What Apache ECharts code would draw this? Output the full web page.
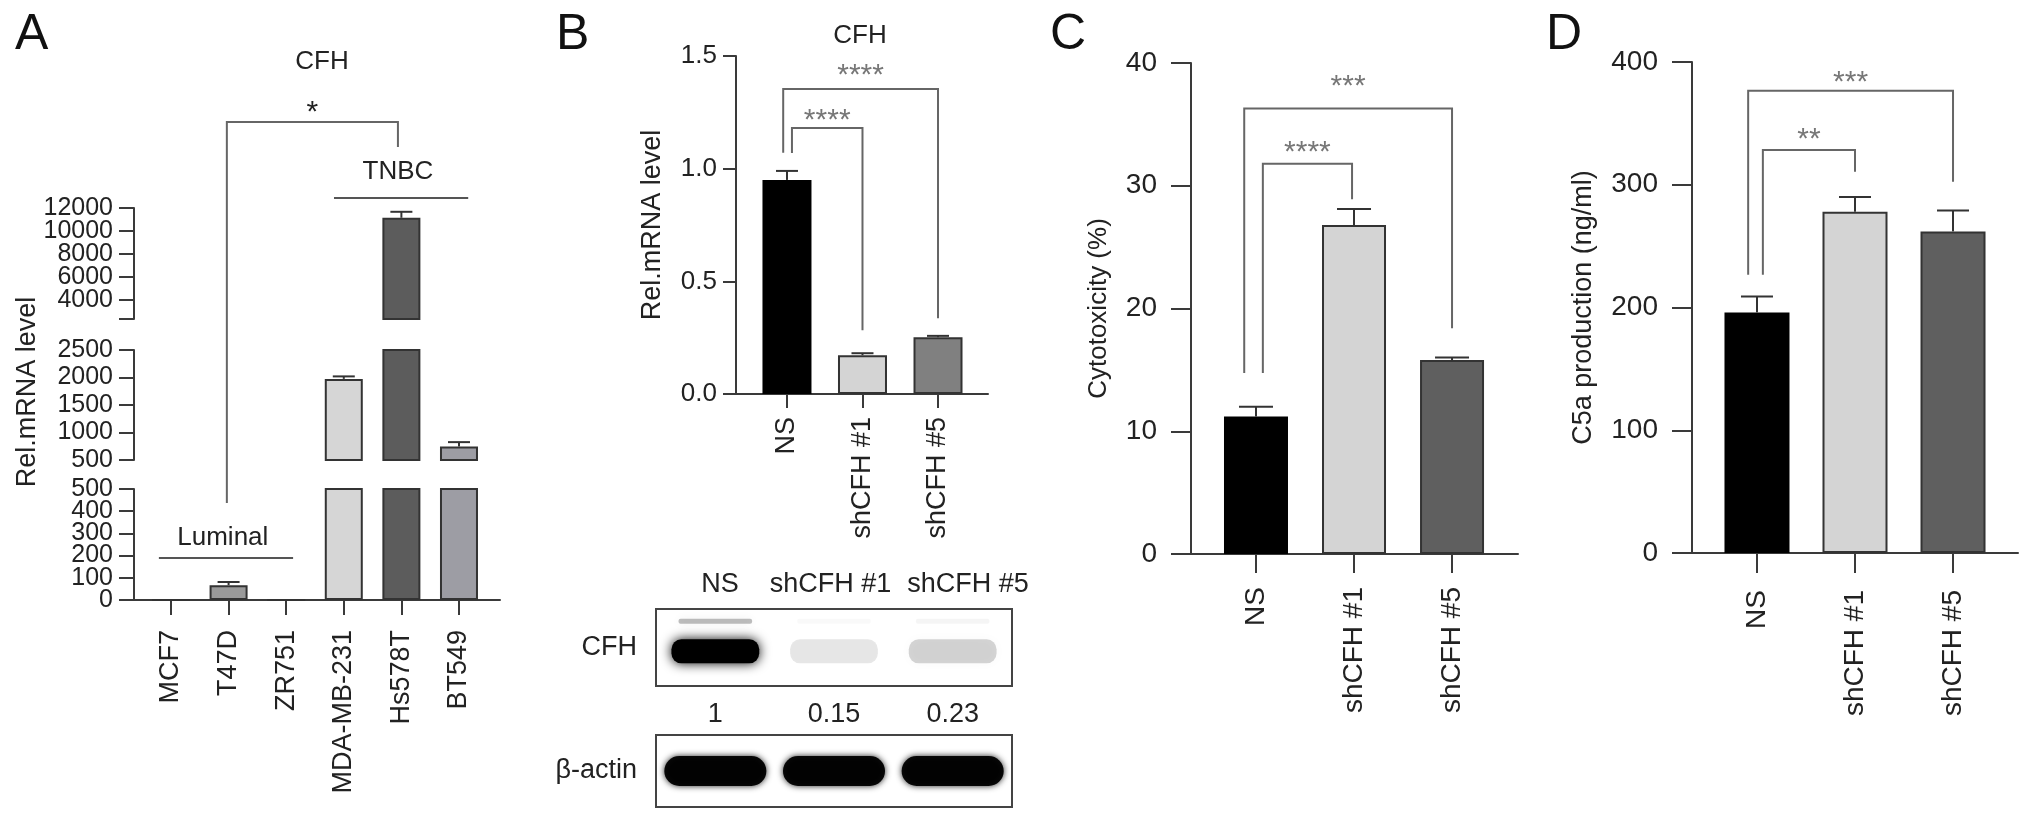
<!DOCTYPE html>
<html><head><meta charset="utf-8">
<script src="https://cdn.jsdelivr.net/npm/echarts@6/dist/echarts.min.js"></script>
<style>html,body{margin:0;padding:0;background:#fff}#c{width:2032px;height:822px}</style>
</head><body><div id="c"></div>
<script>
// ---------- Panel A data ----------
const catsA = ['MCF7', 'T47D', 'ZR751', 'MDA-MB-231', 'Hs578T', 'BT549'];
const meanA = [1, 67, 1, 1975, 11150, 745];
const errA = [0, 14, 0, 45, 520, 80];
const ticksAUpper = [4000, 6000, 8000, 10000, 12000];
const ticksAMid = [500, 1000, 1500, 2000, 2500];
const ticksALow = [0, 100, 200, 300, 400, 500];
const groupNames = ['Luminal', 'TNBC'];
// ---------- Panel B data ----------
const catsB = ['NS', 'shCFH #1', 'shCFH #5'];
const meanB = [0.95, 0.172, 0.252];
const errB = [0.04, 0.009, 0.006];
const blotLanes = ['NS', 'shCFH #1', 'shCFH #5'];
const blotRows = ['CFH', 'β-actin'];
const cfhQuant = [1, 0.15, 0.23];
const actinQuant = [1, 1, 1];
// ---------- Panel C data ----------
const catsC = ['NS', 'shCFH #1', 'shCFH #5'];
const meanC = [11.2, 26.8, 15.8];
const errC = [0.8, 1.3, 0.2];
// ---------- Panel D data ----------
const catsD = ['NS', 'shCFH #1', 'shCFH #5'];
const meanD = [196, 278, 262];
const errD = [13, 12, 17];
// significance brackets: [xLeft, xRight, yTop, yLeftEnd, yRightEnd, yStars, mark]
const bracketsB = [[0.066, 1, 1.18, 1.07, 0.283, 1.243, '****'], [-0.05, 2, 1.354, 1.071, 0.336, 1.442, '****']];
const bracketsC = [[0.07, 0.98, 31.8, 14.75, 28.9, 33.2, '****'], [-0.12, 2, 36.3, 14.75, 18.4, 38.6, '***']];
const bracketsD = [[0.06, 1, 328.4, 226.6, 310.5, 342, '**'], [-0.09, 2, 376.5, 226.6, 302.4, 388.7, '***']];

// ---------- styling / layout ----------
const FONT = '"Liberation Sans", Arial, Helvetica, sans-serif';
const AX = '#3a3a3a';
const TXT = '#222';
const colorsA = ['#9a9a9a', '#9a9a9a', '#9a9a9a', '#d6d6d6', '#5c5c5c', '#9d9da4'];
const colorsB = ['#000000', '#d4d4d4', '#808080'];
const colorsCD = ['#000000', '#d4d4d4', '#5f5f5f'];
const blotLabelPos = [0.54, 1.47, 2.63];   // lane-name label positions (lane units)

const A_X = { min: -0.642, max: 5.712 };
// annotation layer for panel A (layout units, 0 = x axis)
const annA_bracket = [[0.97, 3.94, 478, 97, 453, 494, '*']];
const annA_x1 = [-0.21, 2.83], annA_x2 = [2.12, 5.16], annA_y = [42, 402], annA_ty = [62, 428], annA_tx = [0.9, 3.94];

const evenOf = arr => arr.filter((v, i) => i % 2 === 0);
const oddOf = arr => arr.filter((v, i) => i % 2 === 1);

function barSeries(xi, yi, means, colors, width) {
  return {
    type: 'bar', xAxisIndex: xi, yAxisIndex: yi, barWidth: width, clip: true, z: 2,
    itemStyle: { borderColor: '#333', borderWidth: 2 },
    data: means.map((m, i) => ({ value: [i, m], itemStyle: { color: colors[i], borderColor: colors[i] === '#000000' ? '#000' : '#333' } }))
  };
}
function errSeries(xi, yi, means, errs, lo, hi, half) {
  const data = means.map((m, i) => [i, m, errs[i]]).filter(d => d[2] > 0 && d[1] >= lo && d[1] <= hi);
  return {
    type: 'custom', xAxisIndex: xi, yAxisIndex: yi, z: 4, data: data,
    renderItem: function (params, api) {
      const x = api.value(0), m = api.value(1), e = api.value(2);
      const p0 = api.coord([x, m]), p1 = api.coord([x, m + e]);
      const st = { stroke: '#333', lineWidth: 2 };
      return { type: 'group', children: [
        { type: 'line', shape: { x1: p0[0], y1: p0[1], x2: p1[0], y2: p1[1] }, style: st },
        { type: 'line', shape: { x1: p1[0] - half, y1: p1[1], x2: p1[0] + half, y2: p1[1] }, style: st }
      ] };
    }
  };
}
function bracketSeries(xi, yi, list, starSize, starColor) {
  return {
    type: 'custom', xAxisIndex: xi, yAxisIndex: yi, z: 5, clip: false, data: list.map((b, i) => [i]),
    renderItem: function (params, api) {
      const b = list[params.dataIndex];
      const pL = api.coord([b[0], b[3]]), pTL = api.coord([b[0], b[2]]), pTR = api.coord([b[1], b[2]]), pR = api.coord([b[1], b[4]]);
      const ps = api.coord([(b[0] + b[1]) / 2, b[5]]);
      return { type: 'group', children: [
        { type: 'polyline', shape: { points: [pL, pTL, pTR, pR] }, style: { stroke: '#666', lineWidth: 2, fill: null } },
        { type: 'text', x: ps[0], y: ps[1] + starSize * 0.22, style: { text: b[6], fill: starColor, font: starSize + 'px ' + FONT, align: 'center', verticalAlign: 'middle' } }
      ] };
    }
  };
}
function bandSeries(xi, yi, quant, kind) {
  return {
    type: 'custom', xAxisIndex: xi, yAxisIndex: yi, z: 3, clip: false,
    data: quant.map((q, i) => [i + 0.5, q]),
    renderItem: function (params, api) {
      const lane = api.value(0), q = api.value(1);
      const cs = params.coordSys;
      const cx = api.coord([lane, 0])[0];
      const lw = api.coord([lane + 0.5, 0])[0] - api.coord([lane - 0.5, 0])[0];
      const kids = [];
      if (kind === 'cfh') {
        const a = Math.pow(q, 1.25);
        const w = lw * 0.74, h = 24, cy = cs.y + cs.height * 0.55;
        kids.push({ type: 'rect', shape: { x: cx - w / 2, y: cy - h / 2, width: w, height: h, r: 10 },
          style: { fill: 'rgba(0,0,0,' + a + ')', shadowBlur: 12, shadowColor: 'rgba(0,0,0,' + a + ')' } });
        const w2 = lw * 0.62, h2 = 5, cy2 = cs.y + cs.height * 0.16;
        kids.push({ type: 'rect', shape: { x: cx - w2 / 2, y: cy2 - h2 / 2, width: w2, height: h2, r: 2 },
          style: { fill: 'rgba(0,0,0,' + (0.25 * a) + ')', shadowBlur: 8, shadowColor: 'rgba(0,0,0,' + (0.25 * a) + ')' } });
        // lane name above the blot
        const lx = api.coord([blotLabelPos[params.dataIndex], 0])[0];
        kids.push({ type: 'text', x: lx, y: cs.y - 24, style: { text: blotLanes[params.dataIndex], fill: TXT, font: '27px ' + FONT, align: 'center', verticalAlign: 'middle' } });
      } else {
        const w = lw * 0.86, h = 30, cy = cs.y + cs.height * 0.5;
        kids.push({ type: 'rect', shape: { x: cx - w / 2, y: cy - h / 2, width: w, height: h, r: 15 },
          style: { fill: 'rgba(0,0,0,' + (0.95 * q) + ')', shadowBlur: 6, shadowColor: 'rgba(0,0,0,0.9)' } });
      }
      return { type: 'group', children: kids };
    }
  };
}
function catX(gi, range, cats, opt) {
  const ticks = cats.map((c, i) => i);
  return {
    type: 'value', gridIndex: gi, min: range.min, max: range.max, splitLine: { show: false },
    axisLine: { show: true, onZero: false, lineStyle: { color: AX, width: 2 } },
    axisTick: { show: true, length: opt.tick, customValues: ticks, lineStyle: { color: AX, width: 2 } },
    axisLabel: { show: true, customValues: ticks, rotate: 90, margin: opt.margin, fontSize: opt.fs, color: TXT, fontFamily: FONT,
      showMinLabel: true, showMaxLabel: true, hideOverlap: false, formatter: v => cats[Math.round(v)] }
  };
}
function hiddenX(gi, range) {
  return { type: 'value', gridIndex: gi, min: range.min, max: range.max, show: false, splitLine: { show: false }, axisLine: { onZero: false } };
}
function valY(gi, o) {
  const y = {
    type: 'value', gridIndex: gi, position: 'left', offset: 0, min: o.min, max: o.max, splitLine: { show: false },
    axisLine: { show: o.line !== false, onZero: false, lineStyle: { color: AX, width: 2 } },
    axisTick: { show: o.line !== false, length: o.tick, lineStyle: { color: AX, width: 2 } },
    axisLabel: { margin: o.margin, fontSize: o.fs, color: TXT, fontFamily: FONT, showMinLabel: true, showMaxLabel: true,
      hideOverlap: false, formatter: o.fmt || (v => String(v)) }
  };
  if (o.interval) y.interval = o.interval;
  if (o.tickValues) y.axisTick.customValues = o.tickValues;
  if (o.labelValues) y.axisLabel.customValues = o.labelValues;
  if (o.name) {
    y.name = o.name; y.nameLocation = 'middle'; y.nameGap = o.nameGap;
    y.nameTextStyle = { fontSize: o.nameFs, color: TXT, fontFamily: FONT, padding: o.namePad || 0 };
  }
  return y;
}
const rngB = { min: -0.675, max: 2.662 }, rngC = { min: -0.663, max: 2.673 }, rngD = { min: -0.663, max: 2.663 };

const option = {
  animation: false,
  backgroundColor: '#fff',
  textStyle: { fontFamily: FONT },
  title: [
    { text: 'A', left: 10, top: 5, textStyle: { fontSize: 50, fontWeight: 'normal', color: '#111', fontFamily: FONT } },
    { text: 'B', left: 551, top: 5, textStyle: { fontSize: 50, fontWeight: 'normal', color: '#111', fontFamily: FONT } },
    { text: 'C', left: 1045, top: 5, textStyle: { fontSize: 50, fontWeight: 'normal', color: '#111', fontFamily: FONT } },
    { text: 'D', left: 1541, top: 5, textStyle: { fontSize: 50, fontWeight: 'normal', color: '#111', fontFamily: FONT } },
    { text: 'CFH', left: 317, top: 44, textAlign: 'center', textStyle: { fontSize: 26, fontWeight: 'normal', color: TXT, fontFamily: FONT } },
    { text: 'CFH', left: 855, top: 18, textAlign: 'center', textStyle: { fontSize: 26, fontWeight: 'normal', color: TXT, fontFamily: FONT } }
  ],
  grid: [
    { left: 134, top: 208, width: 366, height: 111 },   // 0 A upper
    { left: 134, top: 350, width: 366, height: 110 },   // 1 A middle
    { left: 134, top: 489, width: 366, height: 111 },   // 2 A lower
    { left: 134, top: 0, width: 366, height: 600 },     // 3 A annotations
    { left: 736, top: 56, width: 252, height: 338 },    // 4 B
    { left: 1191, top: 63, width: 327, height: 491 },   // 5 C
    { left: 1692, top: 62, width: 326, height: 491 },   // 6 D
    { left: 656, top: 609, width: 356, height: 77, show: true, borderColor: '#444', borderWidth: 2 }, // 7 blot CFH
    { left: 656, top: 735, width: 356, height: 72, show: true, borderColor: '#444', borderWidth: 2 }  // 8 blot actin
  ],
  xAxis: [
    hiddenX(0, A_X),
    hiddenX(1, A_X),
    catX(2, A_X, catsA, { tick: 15, margin: 30, fs: 27 }),
    hiddenX(3, A_X),
    catX(4, rngB, catsB, { tick: 14, margin: 23, fs: 27 }),
    catX(5, rngC, catsC, { tick: 19, margin: 33, fs: 28 }),
    catX(6, rngD, catsD, { tick: 20, margin: 37, fs: 28 }),
    { type: 'value', gridIndex: 7, position: 'bottom', min: 0, max: 3, splitLine: { show: false }, axisLine: { show: false, onZero: false }, axisTick: { show: false },
      axisLabel: { customValues: [0.5, 1.5, 2.5], margin: 15, fontSize: 27, color: TXT, fontFamily: FONT, showMinLabel: true, showMaxLabel: true, hideOverlap: false,
        formatter: v => String(cfhQuant[Math.floor(v)]) } },
    { type: 'value', gridIndex: 8, min: 0, max: 3, show: false, splitLine: { show: false }, axisLine: { onZero: false } }
  ],
  yAxis: [
    valY(0, { min: 2350, max: 12000, tick: 15, margin: 21, fs: 25, tickValues: [2350].concat(ticksAUpper), labelValues: evenOf(ticksAUpper) }),
    valY(1, { min: 500, max: 2500, tick: 15, margin: 21, fs: 25, tickValues: ticksAMid, labelValues: ticksAMid,
      name: 'Rel.mRNA level', nameGap: 93, nameFs: 27, namePad: [0, 0, 0, 26] }),
    valY(2, { min: 0, max: 500, tick: 15, margin: 21, fs: 25, tickValues: ticksALow, labelValues: evenOf(ticksALow) }),
    { type: 'value', gridIndex: 3, min: 0, max: 600, show: false, splitLine: { show: false }, axisLine: { onZero: false } },
    valY(4, { min: 0, max: 1.5, interval: 0.5, tick: 13, margin: 19, fs: 26, fmt: v => v.toFixed(1),
      name: 'Rel.mRNA level', nameGap: 70, nameFs: 27 }),
    valY(5, { min: 0, max: 40, interval: 10, tick: 20, margin: 34, fs: 28, name: 'Cytotoxicity (%)', nameGap: 79, nameFs: 26 }),
    valY(6, { min: 0, max: 400, interval: 100, tick: 20, margin: 34, fs: 28, name: 'C5a production (ng/ml)', nameGap: 95, nameFs: 27 }),
    { type: 'category', gridIndex: 7, data: [blotRows[0]], axisLine: { show: false }, axisTick: { show: false },
      axisLabel: { margin: 19, fontSize: 27, color: TXT, fontFamily: FONT } },
    { type: 'category', gridIndex: 8, data: [blotRows[1]], axisLine: { show: false }, axisTick: { show: false },
      axisLabel: { margin: 19, fontSize: 27, color: TXT, fontFamily: FONT } },
    // secondary label-only axes for the densely ticked segments of panel A
    valY(0, { min: 2350, max: 12000, tick: 15, margin: 21, fs: 25, line: false, labelValues: oddOf(ticksAUpper) }),
    valY(2, { min: 0, max: 500, tick: 15, margin: 21, fs: 25, line: false, labelValues: oddOf(ticksALow) })
  ],
  series: [
    // Panel A (broken axis: three segments)
    barSeries(0, 0, meanA, colorsA, 38),
    barSeries(1, 1, meanA, colorsA, 38),
    barSeries(2, 2, meanA, colorsA, 38),
    errSeries(0, 0, meanA, errA, 2350, 12000, 11),
    errSeries(1, 1, meanA, errA, 500, 2500, 11),
    errSeries(2, 2, meanA, errA, 0, 500, 11),
    bracketSeries(3, 3, annA_bracket, 30, '#222'),
    {
      type: 'custom', xAxisIndex: 3, yAxisIndex: 3, z: 5, clip: false, data: groupNames.map((g, i) => [i]),
      renderItem: function (params, api) {
        const i = params.dataIndex;
        const a = api.coord([annA_x1[i], annA_y[i]]), b = api.coord([annA_x2[i], annA_y[i]]);
        const t = api.coord([annA_tx[i], annA_ty[i]]);
        return { type: 'group', children: [
          { type: 'line', shape: { x1: a[0], y1: a[1], x2: b[0], y2: b[1] }, style: { stroke: '#555', lineWidth: 2 } },
          { type: 'text', x: t[0], y: t[1], style: { text: groupNames[i], fill: TXT, font: '26px ' + FONT, align: 'center', verticalAlign: 'middle' } }
        ] };
      }
    },
    // Panel B
    barSeries(4, 4, meanB, colorsB, 49),
    errSeries(4, 4, meanB, errB, 0, 1.5, 11),
    bracketSeries(4, 4, bracketsB, 30, '#777'),
    bandSeries(7, 7, cfhQuant, 'cfh'),
    bandSeries(8, 8, actinQuant, 'actin'),
    // Panel C
    barSeries(5, 5, meanC, colorsCD, 64),
    errSeries(5, 5, meanC, errC, 0, 40, 17),
    bracketSeries(5, 5, bracketsC, 30, '#777'),
    // Panel D
    barSeries(6, 6, meanD, colorsCD, 65),
    errSeries(6, 6, meanD, errD, 0, 400, 16),
    bracketSeries(6, 6, bracketsD, 30, '#777')
  ]
};
const chart = echarts.init(document.getElementById('c'), null, { renderer: 'canvas' });
chart.setOption(option);
</script></body></html>
